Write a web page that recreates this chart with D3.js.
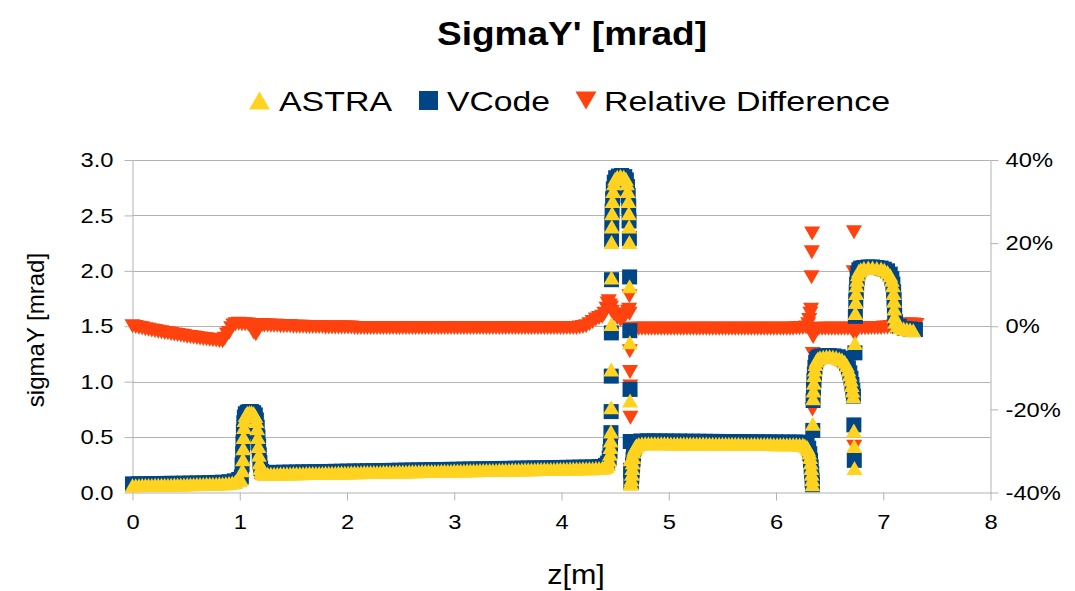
<!DOCTYPE html>
<html>
<head>
<meta charset="utf-8">
<script src="https://cdn.jsdelivr.net/npm/d3@7"></script>
<style>
  body { margin: 0; background: #fff; }
  text { font-family: "Liberation Sans", Arial, sans-serif; fill: #000; }
</style>
</head>
<body>
<svg id="chart" width="1075" height="591"></svg>
<script>
// ---- data: [z in m, sigmaY' in mrad] ----
const astra = [
  [0.00,.065],[0.03,.066],[0.06,.066],[0.09,.067],[0.12,.067],[0.15,.068],[0.18,.068],[0.21,.069],[0.24,.069],[0.27,.070],
  [0.30,.070],[0.33,.071],[0.36,.071],[0.39,.072],[0.42,.072],[0.45,.073],[0.48,.073],[0.51,.074],[0.54,.074],[0.57,.075],
  [0.60,.076],[0.63,.076],[0.66,.077],[0.69,.078],[0.72,.078],[0.75,.079],[0.78,.080],[0.81,.081],[0.84,.082],[0.87,.083],
  [0.90,.085],[0.93,.090],[0.96,.100],[0.99,.110],[1.01,.120],
  [1.025,.20],[1.03,.30],[1.033,.40],[1.036,.50],[1.04,.59],[1.045,.655],[1.055,.70],[1.07,.72],[1.09,.725],[1.11,.725],
  [1.13,.715],[1.145,.69],[1.155,.645],[1.162,.58],[1.168,.50],[1.173,.42],[1.178,.34],[1.184,.27],[1.19,.22],[1.20,.19],[1.21,.175],
  [1.23,.168],[1.26,.169],[1.29,.169],[1.32,.170],[1.35,.170],[1.38,.171],[1.41,.171],[1.44,.172],[1.47,.172],[1.50,.173],
  [1.53,.173],[1.56,.174],[1.59,.174],[1.62,.175],[1.65,.175],[1.68,.176],[1.71,.176],[1.74,.177],[1.77,.177],[1.80,.178],
  [1.83,.178],[1.86,.179],[1.89,.179],[1.92,.180],[1.95,.180],[1.98,.181],[2.01,.181],[2.04,.182],[2.07,.182],[2.10,.183],
  [2.13,.183],[2.16,.184],[2.19,.184],[2.22,.185],[2.25,.185],[2.28,.186],[2.31,.186],[2.34,.187],[2.37,.187],[2.40,.188],
  [2.43,.188],[2.46,.189],[2.49,.189],[2.52,.190],[2.55,.190],[2.58,.191],[2.61,.191],[2.64,.192],[2.67,.192],[2.70,.193],
  [2.73,.193],[2.76,.194],[2.79,.194],[2.82,.195],[2.85,.195],[2.88,.196],[2.91,.196],[2.94,.197],[2.97,.197],[3.00,.198],
  [3.03,.198],[3.06,.199],[3.09,.199],[3.12,.200],[3.15,.200],[3.18,.201],[3.21,.201],[3.24,.202],[3.27,.202],[3.30,.203],
  [3.33,.203],[3.36,.204],[3.39,.204],[3.42,.205],[3.45,.205],[3.48,.206],[3.51,.206],[3.54,.207],[3.57,.207],[3.60,.208],
  [3.63,.208],[3.66,.209],[3.69,.209],[3.72,.210],[3.75,.210],[3.78,.211],[3.81,.211],[3.84,.212],[3.87,.212],[3.90,.213],
  [3.93,.213],[3.96,.214],[3.99,.214],[4.02,.215],[4.05,.215],[4.08,.216],[4.11,.216],[4.14,.217],[4.17,.217],[4.20,.218],
  [4.23,.218],[4.26,.219],[4.29,.219],[4.32,.220],[4.35,.221],
  [4.38,.223],[4.40,.228],[4.42,.238],[4.435,.258],[4.445,.295],[4.452,.35],[4.456,.41],[4.459,.47],[4.461,.55],[4.463,.77],
  [4.464,1.11],[4.465,1.52],[4.466,1.94],[4.467,2.26],[4.469,2.40],[4.472,2.52],[4.476,2.63],[4.482,2.72],[4.49,2.79],[4.50,2.83],
  [4.52,2.85],[4.55,2.855],[4.58,2.85],[4.60,2.83],[4.61,2.79],[4.618,2.72],[4.624,2.63],[4.628,2.52],[4.631,2.40],[4.633,2.26],
  [4.635,1.86],[4.637,1.355],[4.639,.83],[4.642,.30],[4.645,.09],[4.648,.08],[4.652,.12],[4.656,.17],[4.66,.22],[4.664,.27],
  [4.668,.32],[4.673,.37],[4.68,.395],[4.69,.415],[4.70,.427],[4.72,.437],[4.75,.443],
  [4.78,.445],[4.81,.445],[4.84,.445],[4.87,.445],[4.90,.444],[4.93,.444],[4.96,.444],[4.99,.444],[5.02,.443],[5.05,.443],
  [5.08,.443],[5.11,.443],[5.14,.442],[5.17,.442],[5.20,.442],[5.23,.442],[5.26,.441],[5.29,.441],[5.32,.441],[5.35,.441],
  [5.38,.440],[5.41,.440],[5.44,.440],[5.47,.440],[5.50,.440],[5.53,.439],[5.56,.439],[5.59,.439],[5.62,.439],[5.65,.439],
  [5.68,.438],[5.71,.438],[5.74,.438],[5.77,.438],[5.80,.438],[5.83,.437],[5.86,.437],[5.89,.437],[5.92,.437],[5.95,.437],
  [5.98,.436],[6.01,.436],[6.04,.436],[6.07,.436],[6.10,.436],[6.13,.435],[6.16,.435],[6.19,.435],[6.22,.434],
  [6.25,.432],[6.27,.425],[6.29,.41],[6.30,.39],[6.31,.36],[6.318,.32],[6.324,.27],[6.329,.22],[6.333,.17],[6.337,.12],
  [6.34,.075],[6.343,.62],[6.346,.85],
  [6.35,.92],[6.353,.99],[6.357,1.06],[6.362,1.11],[6.368,1.16],[6.377,1.19],[6.39,1.21],[6.41,1.22],[6.44,1.225],[6.47,1.23],
  [6.50,1.23],[6.53,1.225],[6.56,1.22],[6.59,1.21],[6.615,1.20],[6.64,1.18],[6.66,1.15],[6.675,1.11],[6.687,1.065],[6.697,1.02],
  [6.706,.97],[6.714,.92],[6.72,.87],[6.726,.56],[6.729,.42],[6.732,.22],
  [6.736,1.35],[6.74,1.62],[6.744,1.72],[6.748,1.80],[6.752,1.87],[6.757,1.92],[6.764,1.97],[6.773,2.00],[6.79,2.015],[6.82,2.025],
  [6.86,2.03],[6.90,2.03],[6.94,2.025],[6.98,2.02],[7.01,2.01],[7.04,1.99],[7.065,1.96],[7.08,1.92],[7.09,1.87],[7.096,1.80],
  [7.10,1.73],[7.103,1.66],[7.106,1.59],[7.11,1.54],[7.13,1.51],[7.16,1.49],[7.19,1.48],[7.22,1.475],[7.25,1.47],[7.28,1.465]
];

const vcode = [
  [0.00,.078],[0.06,.079],[0.12,.079],[0.18,.080],[0.24,.081],[0.30,.082],[0.36,.083],[0.42,.083],[0.48,.084],[0.54,.085],
  [0.60,.086],[0.66,.087],[0.72,.089],[0.78,.091],[0.84,.093],[0.90,.097],[0.95,.105],[0.99,.118],[1.015,.14],
  [1.022,.25],[1.027,.35],[1.03,.45],[1.034,.55],[1.038,.63],[1.043,.68],[1.052,.71],[1.07,.725],[1.09,.73],[1.11,.73],
  [1.13,.72],[1.145,.70],[1.155,.655],[1.163,.59],[1.17,.50],[1.176,.42],[1.182,.34],[1.188,.27],[1.195,.22],[1.205,.19],
  [1.23,.180],[1.29,.181],[1.35,.182],[1.41,.183],[1.47,.184],[1.53,.185],[1.59,.186],[1.65,.187],[1.71,.188],[1.77,.189],
  [1.83,.190],[1.89,.191],[1.95,.192],[2.01,.193],[2.07,.194],[2.13,.195],[2.19,.196],[2.25,.197],[2.31,.198],[2.37,.199],
  [2.43,.200],[2.49,.201],[2.55,.202],[2.61,.203],[2.67,.204],[2.73,.205],[2.79,.206],[2.85,.207],[2.91,.208],[2.97,.209],
  [3.03,.210],[3.09,.211],[3.15,.212],[3.21,.213],[3.27,.214],[3.33,.215],[3.39,.216],[3.45,.217],[3.51,.218],[3.57,.219],
  [3.63,.220],[3.69,.221],[3.75,.222],[3.81,.223],[3.87,.224],[3.93,.225],[3.99,.226],[4.05,.227],[4.11,.228],[4.17,.229],
  [4.23,.230],[4.29,.231],[4.35,.233],
  [4.38,.235],[4.41,.245],[4.43,.265],[4.445,.31],[4.452,.37],[4.457,.44],[4.461,.54],[4.463,.73],[4.464,1.05],[4.465,1.44],
  [4.466,1.92],[4.467,2.28],[4.469,2.42],[4.472,2.54],[4.477,2.65],[4.483,2.74],[4.492,2.80],[4.505,2.84],[4.53,2.855],[4.56,2.86],
  [4.59,2.85],[4.605,2.82],[4.615,2.76],[4.622,2.68],[4.627,2.58],[4.63,2.45],[4.633,2.29],[4.635,1.945],[4.637,1.46],[4.639,.93],
  [4.641,.46],[4.644,.20],[4.647,.09],[4.651,.10],[4.655,.15],[4.659,.20],[4.663,.25],[4.667,.30],[4.672,.35],[4.678,.40],
  [4.686,.43],[4.696,.45],[4.71,.46],[4.74,.465],
  [4.80,.466],[4.86,.466],[4.92,.465],[4.98,.465],[5.04,.464],[5.10,.464],[5.16,.463],[5.22,.463],[5.28,.462],[5.34,.462],
  [5.40,.461],[5.46,.461],[5.52,.460],[5.58,.460],[5.64,.459],[5.70,.459],[5.76,.458],[5.82,.458],[5.88,.457],[5.94,.457],
  [6.00,.456],[6.06,.456],[6.12,.455],[6.18,.455],[6.22,.454],
  [6.24,.452],[6.27,.445],[6.29,.43],[6.305,.40],[6.315,.35],[6.322,.29],[6.328,.23],[6.333,.17],[6.337,.11],[6.34,.07],
  [6.343,.56],[6.346,.83],
  [6.35,.93],[6.354,1.01],[6.358,1.07],[6.363,1.13],[6.37,1.175],[6.38,1.205],[6.395,1.222],[6.42,1.23],[6.46,1.235],[6.50,1.235],
  [6.54,1.232],[6.58,1.225],[6.61,1.212],[6.635,1.195],[6.658,1.165],[6.675,1.125],[6.688,1.08],[6.699,1.03],[6.708,.975],[6.716,.92],
  [6.722,.87],[6.726,.61],[6.73,.29],[6.736,1.26],[6.74,1.59],
  [6.744,1.73],[6.748,1.81],[6.752,1.88],[6.757,1.93],[6.764,1.98],[6.773,2.01],[6.79,2.025],[6.82,2.03],[6.86,2.035],[6.90,2.035],
  [6.94,2.03],[6.98,2.025],[7.01,2.015],[7.04,2.00],[7.065,1.97],[7.08,1.93],[7.09,1.88],[7.097,1.81],[7.101,1.74],[7.104,1.67],
  [7.107,1.60],[7.115,1.54],[7.15,1.50],[7.20,1.48],[7.25,1.475],[7.30,1.47]
];

// relative difference in percent
const relDiff = [
  [0.00,0.0],[0.03,-0.2],[0.06,-0.35],[0.09,-0.5],[0.12,-0.7],[0.15,-0.85],[0.18,-1.0],[0.21,-1.15],[0.24,-1.3],[0.27,-1.45],
  [0.30,-1.6],[0.33,-1.7],[0.36,-1.85],[0.39,-2.0],[0.42,-2.1],[0.45,-2.25],[0.48,-2.35],[0.51,-2.5],[0.54,-2.6],[0.57,-2.7],
  [0.60,-2.85],[0.63,-2.95],[0.66,-3.05],[0.69,-3.15],[0.72,-3.25],[0.75,-3.35],[0.78,-3.45],[0.81,-3.55],[0.84,-3.6],
  [0.86,-3.0],[0.88,-2.0],[0.90,-1.6],[0.92,-0.5],[0.94,0.2],[0.96,0.5],[0.99,0.6],[1.02,0.5],[1.05,0.5],[1.08,0.4],
  [1.11,-0.5],[1.13,-1.5],[1.15,-1.9],[1.17,-1.0],[1.19,0.0],[1.21,0.3],
  [1.23,0.2],[1.26,0.2],[1.29,0.1],[1.32,0.1],[1.35,0.1],[1.38,0.0],[1.41,0.0],[1.44,0.0],[1.47,0.0],[1.50,-0.1],
  [1.53,-0.1],[1.56,-0.1],[1.59,-0.1],[1.62,-0.2],[1.65,-0.2],[1.68,-0.2],[1.71,-0.2],[1.74,-0.2],[1.77,-0.2],[1.80,-0.3],
  [1.83,-0.3],[1.86,-0.3],[1.89,-0.3],[1.92,-0.3],[1.95,-0.3],[1.98,-0.3],[2.01,-0.3],[2.04,-0.3],[2.07,-0.4],[2.10,-0.4],
  [2.13,-0.4],[2.16,-0.4],[2.19,-0.4],[2.22,-0.4],[2.25,-0.4],[2.28,-0.4],[2.31,-0.4],[2.34,-0.4],[2.37,-0.4],[2.40,-0.4],
  [2.43,-0.4],[2.46,-0.4],[2.49,-0.4],[2.52,-0.4],[2.55,-0.4],[2.58,-0.4],[2.61,-0.4],[2.64,-0.4],[2.67,-0.4],[2.70,-0.4],
  [2.73,-0.4],[2.76,-0.4],[2.79,-0.4],[2.82,-0.4],[2.85,-0.4],[2.88,-0.4],[2.91,-0.4],[2.94,-0.4],[2.97,-0.4],[3.00,-0.4],
  [3.03,-0.4],[3.06,-0.4],[3.09,-0.4],[3.12,-0.4],[3.15,-0.4],[3.18,-0.4],[3.21,-0.4],[3.24,-0.4],[3.27,-0.4],[3.30,-0.4],
  [3.33,-0.4],[3.36,-0.4],[3.39,-0.4],[3.42,-0.4],[3.45,-0.4],[3.48,-0.4],[3.51,-0.4],[3.54,-0.4],[3.57,-0.4],[3.60,-0.4],
  [3.63,-0.4],[3.66,-0.4],[3.69,-0.4],[3.72,-0.4],[3.75,-0.4],[3.78,-0.4],[3.81,-0.4],[3.84,-0.4],[3.87,-0.4],[3.90,-0.4],
  [3.93,-0.4],[3.96,-0.4],[3.99,-0.4],[4.02,-0.4],[4.05,-0.4],[4.08,-0.4],[4.11,-0.4],[4.14,-0.4],[4.17,-0.3],[4.20,-0.2],
  [4.23,0.0],[4.26,0.5],[4.29,1.0],[4.32,1.6],[4.35,2.0],[4.38,2.3],[4.40,3.0],[4.42,4.2],[4.43,5.5],[4.44,6.0],
  [4.45,5.0],[4.462,4.5],[4.47,3.5],[4.49,2.8],[4.52,2.0],[4.55,1.5],[4.58,2.0],[4.60,2.8],[4.62,3.5],[4.63,4.0],
  [4.633,7.2],[4.635,3.0],[4.637,-6.0],[4.639,-11.0],[4.641,-14.5],[4.643,-22.0],
  [4.66,-0.6],[4.69,-0.6],[4.72,-0.6],[4.75,-0.6],[4.78,-0.6],[4.81,-0.6],[4.84,-0.6],[4.87,-0.6],[4.90,-0.6],[4.93,-0.6],
  [4.96,-0.6],[4.99,-0.6],[5.02,-0.6],[5.05,-0.6],[5.08,-0.6],[5.11,-0.6],[5.14,-0.6],[5.17,-0.6],[5.20,-0.6],[5.23,-0.6],
  [5.26,-0.6],[5.29,-0.6],[5.32,-0.6],[5.35,-0.6],[5.38,-0.6],[5.41,-0.6],[5.44,-0.6],[5.47,-0.6],[5.50,-0.6],[5.53,-0.6],
  [5.56,-0.6],[5.59,-0.6],[5.62,-0.6],[5.65,-0.6],[5.68,-0.6],[5.71,-0.6],[5.74,-0.6],[5.77,-0.6],[5.80,-0.6],[5.83,-0.6],
  [5.86,-0.6],[5.89,-0.6],[5.92,-0.6],[5.95,-0.6],[5.98,-0.6],[6.01,-0.6],[6.04,-0.6],[6.07,-0.6],[6.10,-0.6],[6.13,-0.6],
  [6.16,-0.6],[6.19,-0.5],[6.22,-0.5],[6.25,-0.4],[6.28,-0.3],
  [6.30,0.5],[6.31,1.5],[6.32,3.0],[6.327,4.0],[6.331,11.8],[6.334,17.8],[6.337,22.3],[6.34,-20.0],[6.343,-6.7],[6.346,-2.6],
  [6.35,-1.0],[6.37,-0.7],[6.40,-0.6],[6.43,-0.6],[6.46,-0.6],[6.49,-0.6],[6.52,-0.6],[6.55,-0.6],[6.58,-0.6],[6.61,-0.6],
  [6.64,-0.6],[6.67,-0.6],[6.70,-0.6],
  [6.724,13.0],[6.727,22.6],[6.73,-29.0],[6.734,-2.0],[6.74,-0.6],
  [6.77,-0.5],[6.80,-0.5],[6.83,-0.5],[6.86,-0.5],[6.89,-0.4],[6.92,-0.4],[6.95,-0.4],[6.98,-0.4],[7.01,-0.3],[7.04,-0.3],
  [7.07,-0.2],[7.10,0.0],[7.13,0.2],[7.16,0.3],[7.19,0.4],[7.22,0.4],[7.25,0.4],[7.28,0.4],[7.31,0.3]
];

const seriesNames = ["ASTRA", "VCode", "Relative Difference"];
const leftTicks = [0, 0.5, 1, 1.5, 2, 2.5, 3];
const rightTicks = [-40, -20, 0, 20, 40];
const zTicks = [0, 1, 2, 3, 4, 5, 6, 7, 8];

const COLORS = { astra: "#ffd320", vcode: "#004586", rel: "#ff420e" };
const GRID = "#b3b3b3";

// ---- layout ----
const svg = d3.select("#chart");
const plot = { left: 132.5, right: 990.5, top: 160, bottom: 492.5 };

const x = d3.scaleLinear().domain([0, 8]).range([plot.left, plot.right]);
const y = d3.scaleLinear().domain([0, 3]).range([plot.bottom, plot.top]);
const yR = d3.scaleLinear().domain([-40, 40]).range([plot.bottom, plot.top]);

// widen glyphs horizontally a little (wide-set chart lettering)
function widen(sel, k) {
  sel.each(function () {
    const w = this.getComputedTextLength();
    this.setAttribute("textLength", (w * k).toFixed(1));
    this.setAttribute("lengthAdjust", "spacingAndGlyphs");
  });
}

// ---- grid ----
svg.append("g")
  .selectAll("line")
  .data(leftTicks.filter(d => d > 0))
  .join("line")
  .attr("x1", plot.left).attr("x2", plot.right)
  .attr("y1", d => Math.round(y(d)) + 0.5).attr("y2", d => Math.round(y(d)) + 0.5)
  .attr("stroke", GRID).attr("stroke-width", 1);

// ---- axes ----
function styleAxis(g) {
  g.selectAll("path.domain").attr("stroke", GRID);
  g.selectAll(".tick line").attr("stroke", GRID);
  g.selectAll("text").attr("font-size", 21).attr("fill", "#000")
    .attr("font-family", '"Liberation Sans", Arial, sans-serif');
}

const gl = svg.append("g").attr("transform", `translate(${plot.left},0)`)
  .call(d3.axisLeft(y).tickValues(leftTicks).tickFormat(d3.format(".1f"))
    .tickSize(8).tickSizeOuter(0).tickPadding(11));
styleAxis(gl);

const gb = svg.append("g").attr("transform", `translate(0,${plot.bottom})`)
  .call(d3.axisBottom(x).tickValues(zTicks).tickFormat(d3.format("d"))
    .tickSize(8).tickSizeOuter(0).tickPadding(14));
styleAxis(gb);

const gr = svg.append("g").attr("transform", `translate(${plot.right},0)`)
  .call(d3.axisRight(yR).tickValues(rightTicks).tickFormat(d => d + "%")
    .tickSize(8).tickSizeOuter(0).tickPadding(7));
styleAxis(gr);

widen(svg.selectAll(".tick text"), 1.13);

// ---- marker shapes ----
const triUp = (w, h) => `M0,${-h / 2}L${w / 2},${h / 2}L${-w / 2},${h / 2}Z`;
const triDown = (w, h) => `M${-w / 2},${-h / 2}L${w / 2},${-h / 2}L0,${h / 2}Z`;
const square = s => `M${-s / 2},${-s / 2}h${s}v${s}h${-s}Z`;

// ---- series ----
svg.append("g").selectAll("path").data(relDiff).join("path")
  .attr("transform", d => `translate(${x(d[0])},${yR(d[1])})`)
  .attr("d", triDown(16, 14)).attr("fill", COLORS.rel);

svg.append("g").selectAll("path").data(vcode).join("path")
  .attr("transform", d => `translate(${x(d[0])},${y(d[1])})`)
  .attr("d", square(15)).attr("fill", COLORS.vcode);

svg.append("g").selectAll("path").data(astra).join("path")
  .attr("transform", d => `translate(${x(d[0])},${y(d[1])})`)
  .attr("d", triUp(16, 14)).attr("fill", COLORS.astra);

// ---- titles ----
svg.append("text")
  .attr("x", 572).attr("y", 45).attr("text-anchor", "middle")
  .attr("font-size", 34).attr("font-weight", "bold")
  .attr("textLength", 270).attr("lengthAdjust", "spacingAndGlyphs")
  .text("SigmaY' [mrad]");

svg.append("text")
  .attr("transform", "translate(44,330) rotate(-90)")
  .attr("text-anchor", "middle").attr("font-size", 24)
  .text("sigmaY [mrad]");

const xt = svg.append("text")
  .attr("x", 576).attr("y", 584).attr("text-anchor", "middle")
  .attr("font-size", 27).text("z[m]");
widen(xt, 1.13);

// ---- legend ----
const legend = svg.append("g");
const legendItems = [
  { name: seriesNames[0], shape: triUp(21, 18), color: COLORS.astra, mx: 259.5, tx: 279, tw: 113 },
  { name: seriesNames[1], shape: square(19), color: COLORS.vcode, mx: 428.5, tx: 447, tw: 103 },
  { name: seriesNames[2], shape: triDown(21, 18), color: COLORS.rel, mx: 586, tx: 604, tw: 286 }
];
legendItems.forEach(it => {
  legend.append("path").attr("d", it.shape).attr("fill", it.color)
    .attr("transform", `translate(${it.mx},100.5)`);
  legend.append("text").attr("x", it.tx).attr("y", 111)
    .attr("font-size", 28)
    .attr("textLength", it.tw).attr("lengthAdjust", "spacingAndGlyphs")
    .text(it.name);
});
</script>
</body>
</html>
